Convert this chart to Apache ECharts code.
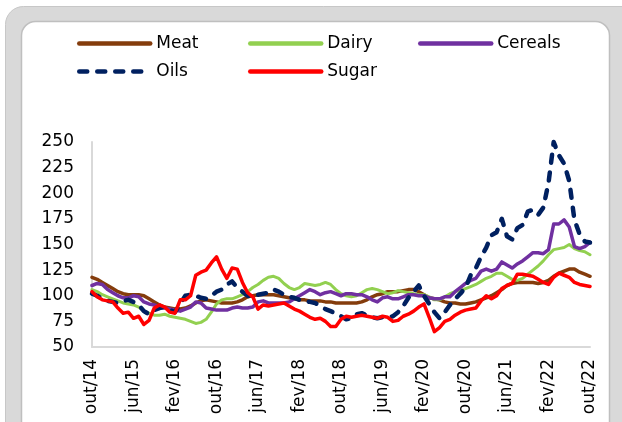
<!DOCTYPE html>
<html>
<head>
<meta charset="utf-8">
<script src="https://cdn.jsdelivr.net/npm/echarts@6/dist/echarts.min.js"></script>
<style>
html,body{margin:0;padding:0;background:#fff;}
#c{width:622px;height:422px;}
</style>
</head>
<body>
<div id="c"></div>
<script>
var categories = [
 'out/14','nov/14','dez/14',
 'jan/15','fev/15','mar/15','abr/15','mai/15','jun/15','jul/15','ago/15','set/15','out/15','nov/15','dez/15',
 'jan/16','fev/16','mar/16','abr/16','mai/16','jun/16','jul/16','ago/16','set/16','out/16','nov/16','dez/16',
 'jan/17','fev/17','mar/17','abr/17','mai/17','jun/17','jul/17','ago/17','set/17','out/17','nov/17','dez/17',
 'jan/18','fev/18','mar/18','abr/18','mai/18','jun/18','jul/18','ago/18','set/18','out/18','nov/18','dez/18',
 'jan/19','fev/19','mar/19','abr/19','mai/19','jun/19','jul/19','ago/19','set/19','out/19','nov/19','dez/19',
 'jan/20','fev/20','mar/20','abr/20','mai/20','jun/20','jul/20','ago/20','set/20','out/20','nov/20','dez/20',
 'jan/21','fev/21','mar/21','abr/21','mai/21','jun/21','jul/21','ago/21','set/21','out/21','nov/21','dez/21',
 'jan/22','fev/22','mar/22','abr/22','mai/22','jun/22','jul/22','ago/22','set/22','out/22'
];

var meat = [118,116,113,110,107,104,102,101,101,101, 100,97,94,91,89,88,87,87,88,90,
 93,95,96,95,94,93,93,93,94,96, 99,100,101,101,101,101,100,99,98,97,
 96,96,95,95,95,94,94,93,93,93, 93,93,94,96,99,101,102,104,104,104,
 105,106,106,104,101,98,97,96,94,93, 93,92,92,93,94,96,98,100,103,106,
 110,112,113,113,113,113,112,113,115,119, 122,124,126,126,123,121,119];

var dairy = [106,104,101,99,97,95,93,92,91,89, 85,83,81,81,82,80,79,78,77,75,
 73,74,77,84,92,96,97,97,99,101, 104,108,111,115,118,119,117,112,108,106,
 108,112,111,110,111,113,111,106,102,100, 99,100,103,106,107,106,104,102,103,105,
 104,103,102,101,101,99,96,96,99,102, 104,105,107,109,111,114,117,119,122,122,
 119,116,115,117,121,125,129,134,140,145, 146,147,150,146,144,143,140];

var cereals = [110,112,111,106,103,100,98,98,100,99, 94,92,91,89,88,87,86,85,87,89,
 94,93,88,87,86,86,86,88,89,88, 88,89,94,95,93,93,93,93,94,97,
 100,103,106,104,101,103,104,102,100,102, 102,101,101,99,96,94,98,99,97,97,
 99,101,101,100,100,98,97,97,99,99, 104,108,112,115,117,124,126,124,126,133,
 130,127,131,134,138,142,142,141,145,170, 170,174,167,148,146,148,152];

var oils = [102,100,97,95,94,93,95,96,94,91, 85,82,86,88,89,86,84,92,100,101,
 100,98,97,100,104,106,111,114,108,104, 100,99,101,102,103,106,104,101,99,98,
 96,95,94,93,90,87,85,83,80,77, 78,82,83,81,79,78,79,79,80,84,
 90,98,104,110,100,92,84,78,84,91, 97,102,108,120,127,138,147,159,162,175,
 158,155,166,169,182,184,179,186,210,250, 237,229,212,174,160,153,152];

var sugar = [104,99,96,95,94,88,83,84,78,80, 72,76,88,91,89,84,83,96,96,100,
 120,123,125,132,138,126,117,127,126,113, 103,99,87,91,90,91,92,93,90,87,
 85,82,79,77,78,75,70,70,77,80, 79,80,81,80,79,78,80,79,75,76,
 80,82,85,89,92,79,65,69,75,77, 81,84,86,87,88,95,100,97,100,107,
 110,112,121,121,120,119,116,113,111,118, 122,120,118,113,111,110,109];

var yTicks = {min: 50, max: 250, interval: 25};

var FONT = 'DejaVu Sans';
var chart = echarts.init(document.getElementById('c'), null, {renderer: 'canvas'});

function mkLegend(name, left, top) {
  return {
    data: [name], left: left, top: top, orient: 'horizontal',
    itemWidth: 71, itemHeight: 14, itemGap: 0, padding: 0,
    itemStyle: {opacity: 0},
    lineStyle: {width: 4.5, cap: 'round'},
    textStyle: {fontFamily: FONT, fontSize: 17, color: '#000', padding: [0,0,0,1]},
    selectedMode: false
  };
}

function mkLine(name, data, color, width, dash) {
  return {
    name: name, type: 'line', data: data, symbol: 'none', showSymbol: false,
    smooth: false, clip: false,
    lineStyle: {color: color, width: width, type: dash || 'solid', cap: 'round', join: 'round'},
    itemStyle: {color: color},
    emphasis: {disabled: true},
    animation: false
  };
}

var option = {
  animation: false,
  backgroundColor: '#fff',
  graphic: [
    {type: 'rect', z: -10, silent: true,
     shape: {x: 5.5, y: 6.5, width: 660, height: 520, r: 18},
     style: {fill: '#d9d9d9', stroke: '#c7c7c7', lineWidth: 1}},
    {type: 'rect', z: -9, silent: true,
     shape: {x: 21.5, y: 21.5, width: 588, height: 500, r: 14},
     style: {fill: '#ffffff', stroke: '#bfbfbf', lineWidth: 1.5}}
  ],
  legend: [
    mkLegend('Meat', 77, 35),
    mkLegend('Dairy', 248, 35),
    mkLegend('Cereals', 418, 35),
    mkLegend('Oils', 77, 63),
    mkLegend('Sugar', 248, 63)
  ],
  grid: {left: 92, right: 32, top: 142, bottom: 75, containLabel: false},
  xAxis: {
    type: 'category', data: categories, boundaryGap: false,
    axisLine: {show: true, lineStyle: {color: '#d9d9d9', width: 2}},
    axisTick: {show: false},
    splitLine: {show: false},
    axisLabel: {interval: 7, rotate: 90, margin: 12, fontFamily: FONT, fontSize: 17, color: '#000'}
  },
  yAxis: {
    type: 'value', min: yTicks.min, max: yTicks.max, interval: yTicks.interval,
    axisLine: {show: true, lineStyle: {color: '#d9d9d9', width: 2}},
    axisTick: {show: false},
    splitLine: {show: false},
    axisLabel: {margin: 18, fontFamily: FONT, fontSize: 17, color: '#000'}
  },
  series: [
    mkLine('Meat', meat, '#843c0c', 3.5),
    mkLine('Dairy', dairy, '#92d050', 3),
    mkLine('Cereals', cereals, '#7030a0', 3.5),
    mkLine('Oils', oils, '#002060', 4.5, [8, 10]),
    mkLine('Sugar', sugar, '#ff0000', 3.5)
  ]
};
chart.setOption(option);
</script>
</body>
</html>
